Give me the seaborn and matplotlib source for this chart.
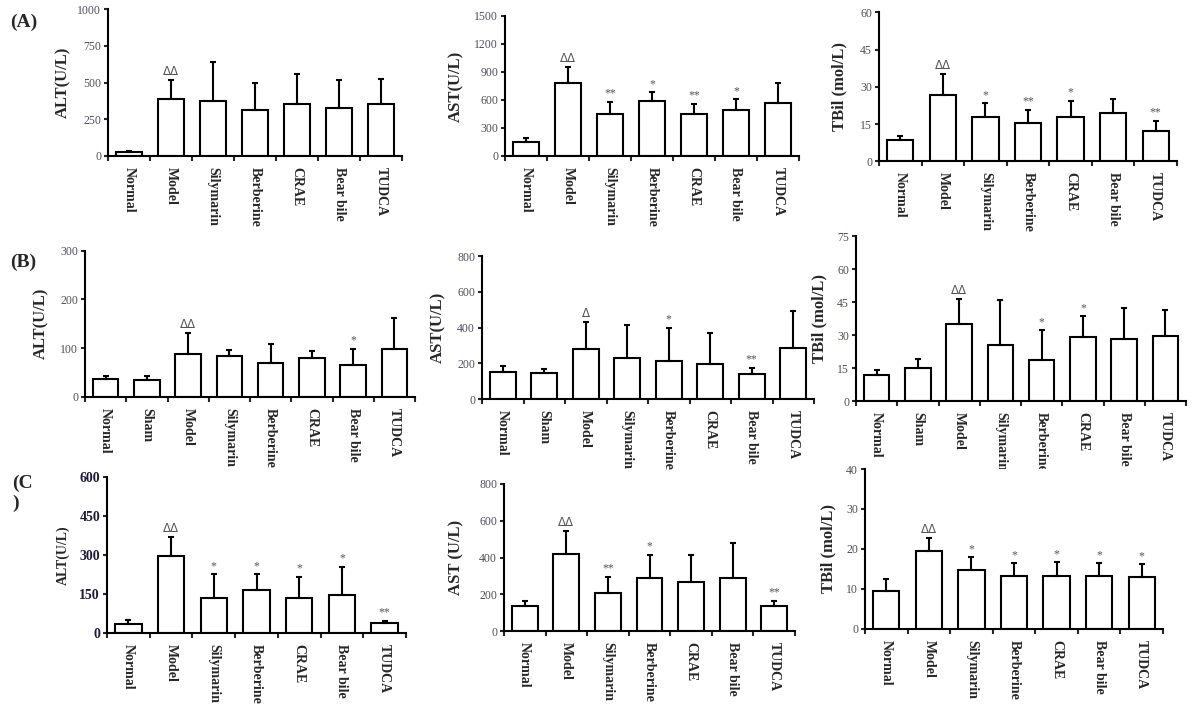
import numpy as np
import pandas as pd
import matplotlib
matplotlib.use("Agg")
import matplotlib.pyplot as plt
import seaborn as sns

# ---------------- data ----------------
groups7 = ["Normal", "Model", "Silymarin", "Berberine", "CRAE", "Bear bile", "TUDCA"]
groups8 = ["Normal", "Sham", "Model", "Silymarin", "Berberine", "CRAE", "Bear bile", "TUDCA"]

a_alt_mean = [28, 388, 375, 311, 357, 329, 357]
a_alt_sd = [8, 128, 263, 188, 201, 187, 170]
a_alt_sig = ["", "ΔΔ", "", "", "", "", ""]

a_ast_mean = [150, 786, 454, 593, 454, 496, 571]
a_ast_sd = [43, 168, 128, 93, 107, 115, 215]
a_ast_sig = ["", "ΔΔ", "**", "*", "**", "*", ""]

a_tbil_mean = [8.6, 26.8, 18.0, 15.4, 18.0, 19.3, 12.1]
a_tbil_sd = [1.5, 8.4, 5.4, 5.3, 6.4, 5.7, 4.3]
a_tbil_sig = ["", "ΔΔ", "*", "**", "*", "", "**"]

b_alt_mean = [35.6, 34.2, 86.9, 83.6, 68.5, 79.5, 65.0, 97.9]
b_alt_sd = [6.2, 7.6, 44, 13, 40.5, 15, 33.6, 63.7]
b_alt_sig = ["", "", "ΔΔ", "", "", "", "*", ""]

b_ast_mean = [155, 149, 279, 230, 216, 199, 140, 285]
b_ast_sd = [31, 22, 151, 187, 184, 171, 37, 210]
b_ast_sig = ["", "", "Δ", "", "*", "", "**", ""]

b_tbil_mean = [12.0, 15.0, 35.2, 25.8, 18.9, 29.1, 28.5, 29.5]
b_tbil_sd = [2.4, 4.1, 11.3, 20.3, 13.4, 9.7, 14.1, 12.2]
b_tbil_sig = ["", "", "ΔΔ", "", "*", "*", "", ""]

c_alt_mean = [33, 295, 132, 164, 132, 144, 37]
c_alt_sd = [14, 73, 94, 62, 83, 110, 9]
c_alt_sig = ["", "ΔΔ", "*", "*", "*", "*", "**"]

c_ast_mean = [138, 418, 210, 288, 268, 288, 138]
c_ast_sd = [28, 127, 87, 128, 148, 190, 28]
c_ast_sig = ["", "ΔΔ", "**", "*", "", "", "**"]

c_tbil_mean = [9.4, 19.5, 14.6, 13.2, 13.2, 13.2, 13.0]
c_tbil_sd = [3.0, 3.1, 3.3, 3.2, 3.4, 3.2, 3.1]
c_tbil_sig = ["", "ΔΔ", "*", "*", "*", "*", "*"]

yticks_a_alt = [0, 250, 500, 750, 1000]
yticks_a_ast = [0, 300, 600, 900, 1200, 1500]
yticks_a_tbil = [0, 15, 30, 45, 60]
yticks_b_alt = [0, 100, 200, 300]
yticks_b_ast = [0, 200, 400, 600, 800]
yticks_b_tbil = [0, 15, 30, 45, 60, 75]
yticks_c_alt = [0, 150, 300, 450, 600]
yticks_c_ast = [0, 200, 400, 600, 800]
yticks_c_tbil = [0, 10, 20, 30, 40]

panel_labels = ["(A)", "(B)", "(C\n)"]

# ---------------- style ----------------
sns.set_style("ticks")
plt.rcParams["font.family"] = ["Liberation Serif", "DejaVu Serif"]

W, H = 1200, 717
fig = plt.figure(figsize=(W / 100, H / 100), dpi=100)


def rect(l, t, r, b):
    return [l / W, 1 - b / H, (r - l) / W, (b - t) / H]


panels = [
    (rect(108, 9, 402, 156), groups7, a_alt_mean, a_alt_sd, a_alt_sig, yticks_a_alt, "ALT(U/L)", 44, False),
    (rect(505, 16, 799, 156), groups7, a_ast_mean, a_ast_sd, a_ast_sig, yticks_a_ast, "AST(U/L)", 48, False),
    (rect(879, 12.3, 1177, 161.3), groups7, a_tbil_mean, a_tbil_sd, a_tbil_sig, yticks_a_tbil, "TBil (mol/L)", 39, False),
    (rect(85, 250.7, 415, 396.7), groups8, b_alt_mean, b_alt_sd, b_alt_sig, yticks_b_alt, "ALT(U/L)", 43, False),
    (rect(482, 256, 814, 399.3), groups8, b_ast_mean, b_ast_sd, b_ast_sig, yticks_b_ast, "AST(U/L)", 43, False),
    (rect(856, 236.3, 1186, 401.3), groups8, b_tbil_mean, b_tbil_sd, b_tbil_sig, yticks_b_tbil, "TBil (mol/L)", 36, False),
    (rect(107, 476.7, 406, 632.7), groups7, c_alt_mean, c_alt_sd, c_alt_sig, yticks_c_alt, "ALT(U/L)", 44, True),
    (rect(504, 484, 795, 631.3), groups7, c_ast_mean, c_ast_sd, c_ast_sig, yticks_c_ast, "AST (U/L)", 47, False),
    (rect(865, 469, 1163, 628.7), groups7, c_tbil_mean, c_tbil_sd, c_tbil_sig, yticks_c_tbil, "TBil (mol/L)", 36, False),
]

for (r, groups, mean, sd, sig, yt, ylab, labdist, boldticks) in panels:
    ax = fig.add_axes(r)
    df = pd.DataFrame({"group": groups, "value": mean})
    sns.barplot(data=df, x="group", y="value", order=groups, color="white",
                edgecolor="black", linewidth=1.5, width=0.62, errorbar=None, ax=ax)
    for p in ax.patches:
        p.set_facecolor("white")
    xs = np.arange(len(groups))
    ax.errorbar(xs, mean, yerr=[np.zeros(len(sd)), sd], fmt="none", ecolor="black",
                elinewidth=1.5, capsize=2.2, capthick=1.5, zorder=3)
    ymax = yt[-1]
    for x, m, s, t in zip(xs, mean, sd, sig):
        if t:
            ax.annotate(t, xy=(x, m + s), xytext=(0, 1.5), textcoords="offset points",
                        ha="center", va="bottom", fontsize=8.5, color="#555555",
                        family=["DejaVu Sans"] if "Δ" in t else ["Liberation Serif"])
    ax.set_xlim(-0.5, len(groups) - 0.5)
    ax.set_ylim(0, ymax)
    ax.set_yticks(yt)
    ax.set_xticks(xs)
    ax.set_xticks(np.arange(len(groups) + 1) - 0.5, minor=True)
    ax.set_xticklabels(groups, rotation=-90, fontsize=10, fontweight="bold")
    ax.tick_params(axis="x", which="major", length=0, pad=8)
    ax.tick_params(axis="x", which="minor", length=3.5, width=1.5, direction="out")
    if boldticks:
        ax.tick_params(axis="y", length=3, width=1.5, labelsize=10, labelcolor="#1c1c3c", pad=2)
        for lb in ax.get_yticklabels():
            lb.set_fontweight("bold")
        ax.set_ylabel(ylab, fontsize=10, fontweight="bold")
    else:
        ax.tick_params(axis="y", length=3, width=1.5, labelsize=8.5, labelcolor="#4e4e5e", pad=2)
        ax.set_ylabel(ylab, fontsize=12, fontweight="bold")
    ax.set_xlabel("")
    axw = r[2] * W
    ax.yaxis.set_label_coords(-(labdist - 7) / axw, 0.5)
    for sp in ["top", "right"]:
        ax.spines[sp].set_visible(False)
    for sp in ["left", "bottom"]:
        ax.spines[sp].set_linewidth(1.5)
        ax.spines[sp].set_color("black")

fig.text(10 / W, 1 - 22 / H, panel_labels[0], fontsize=14, fontweight="bold", va="center")
fig.text(10 / W, 1 - 262 / H, panel_labels[1], fontsize=14, fontweight="bold", va="center")
fig.text(12 / W, 1 - 493 / H, panel_labels[2], fontsize=14, fontweight="bold", va="center",
         linespacing=1.2)

fig.savefig("out.png", dpi=100, facecolor="white")
